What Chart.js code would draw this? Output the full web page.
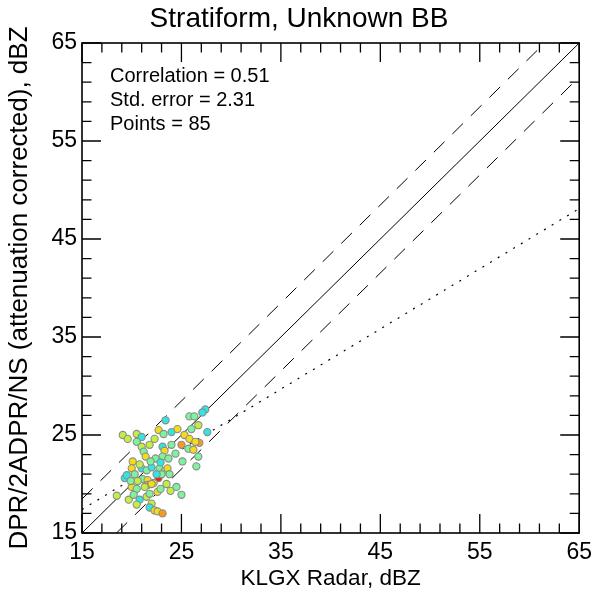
<!DOCTYPE html>
<html>
<head>
<meta charset="utf-8">
<script src="https://cdn.jsdelivr.net/npm/chart.js@4.4.1/dist/chart.umd.min.js"></script>
<style>
  html, body { margin: 0; padding: 0; background: #fff; }
  canvas { display: block; }
</style>
</head>
<body>
<canvas id="c" width="598" height="599"></canvas>
<script>
/* ==== data ==== */
// KLGX radar (x) vs DPR attenuation corrected (y), dBZ
const xVals = [
  23.4, 25.8, 26.3, 27.4, 27.1, 26.7, 22.7, 19.1, 20.5, 21.0,
  23.2, 24.0, 20.5, 21.0, 21.8, 25.3, 25.0, 25.8, 26.8, 26.4,
  27.6, 25.7, 23.1, 23.3, 21.2, 21.4, 23.1, 23.7, 26.7, 25.1,
  26.5, 20.1, 20.0, 21.0, 21.5, 22.0, 22.8, 23.3, 23.6, 19.3,
  19.5, 20.3, 21.1, 21.6, 22.7, 23.0, 22.2, 21.6, 22.0, 20.0,
  20.5, 21.3, 23.5, 24.5, 22.6, 25.0, 18.5, 19.7, 20.8, 20.5,
  22.0, 21.8, 22.3, 22.6, 23.1, 22.4, 22.9, 21.9, 24.4, 20.6,
  22.5, 23.8, 21.5, 20.2, 24.0, 26.0, 22.3, 19.9, 21.8, 24.6,
  26.2, 20.8, 22.9, 23.9, 19.6
];
const yVals = [
  26.5, 26.9, 26.9, 27.6, 27.3, 26.0, 25.5, 25.0, 25.1, 24.8,
  25.1, 25.3, 24.3, 23.8, 24.0, 25.0, 24.0, 24.6, 24.2, 24.3,
  25.3, 23.6, 23.8, 23.4, 23.3, 22.8, 22.8, 22.6, 22.8, 22.3,
  21.8, 22.3, 21.6, 21.6, 21.4, 21.7, 21.6, 21.3, 21.6, 20.6,
  20.9, 21.0, 20.5, 20.4, 20.6, 21.0, 20.1, 19.9, 20.0, 19.7,
  19.5, 19.7, 20.0, 19.7, 19.2, 18.9, 18.8, 18.4, 18.4, 17.9,
  18.0, 17.6, 17.3, 17.2, 17.0, 22.6, 22.2, 22.3, 23.1, 20.3,
  21.0, 21.0, 18.7, 18.9, 24.0, 25.6, 24.6, 20.3, 19.0, 25.6,
  23.5, 22.0, 19.5, 19.3, 24.6
];
// colour class of each point (0 cyan .. 5 red)
const colourClass = [
  0, 1, 1, 0, 0, 2, 3, 2, 2, 0,
  1, 0, 1, 2, 2, 3, 4, 3, 4, 3,
  0, 1, 0, 3, 1, 3, 1, 1, 1, 1,
  1, 3, 3, 0, 1, 0, 1, 1, 3, 0,
  0, 1, 1, 3, 5, 1, 3, 4, 3, 3,
  1, 2, 2, 1, 3, 1, 2, 2, 0, 2,
  2, 0, 3, 3, 4, 1, 0, 1, 1, 2,
  0, 1, 2, 1, 1, 1, 2, 1, 1, 3,
  3, 2, 1, 2, 2
];
const classColours = ["#2fe6e2", "#7ef29c", "#c2f040", "#f4dc18", "#f59a22", "#e6230f"];

// reference lines (x, y end points)
const oneToOne = [[15, 15], [65, 65]];
const upperLine = [[15, 18.47], [61.53, 65]];
const lowerLine = [[18.47, 15], [65, 61.53]];
const fitLine = [[15, 17.4], [65, 48.1]];

const majorTicks = [15, 25, 35, 45, 55, 65];
const minorTicks = [17, 19, 21, 23, 27, 29, 31, 33, 37, 39, 41, 43, 47, 49, 51, 53, 57, 59, 61, 63];

const statLines = ["Correlation = 0.51", "Std. error = 2.31", "Points = 85"];

const FONT = "'Liberation Sans', Arial, Helvetica, sans-serif";

/* ==== helpers ==== */
const toXY = arr => arr.map(p => ({ x: p[0], y: p[1] }));
function lineSet(pts, dash, w) {
  return { type: 'line', data: toXY(pts), borderColor: '#000', borderWidth: w || 1,
           borderDash: dash, pointRadius: 0, fill: false, order: 2 };
}

// inward ticks on all four sides + frame + stats text
const framePlugin = {
  id: 'frame',
  afterDraw(chart) {
    const { ctx, chartArea: a, scales: { x, y } } = chart;
    ctx.save();
    ctx.strokeStyle = '#000';
    ctx.lineWidth = 1.3;
    ctx.beginPath();
    const tick = (v, len) => {
      const px = x.getPixelForValue(v), py = y.getPixelForValue(v);
      ctx.moveTo(px, a.bottom); ctx.lineTo(px, a.bottom - len);
      ctx.moveTo(px, a.top); ctx.lineTo(px, a.top + len);
      ctx.moveTo(a.left, py); ctx.lineTo(a.left + len, py);
      ctx.moveTo(a.right, py); ctx.lineTo(a.right - len, py);
    };
    majorTicks.forEach(v => tick(v, 19));
    minorTicks.forEach(v => tick(v, 9.5));
    ctx.stroke();
    ctx.lineWidth = 1.6;
    ctx.strokeRect(a.left, a.top, a.right - a.left, a.bottom - a.top);

    ctx.fillStyle = '#000';
    ctx.font = "20px " + FONT;
    ctx.textBaseline = 'alphabetic';
    statLines.forEach((s, i) => ctx.fillText(s, a.left + 28, a.top + 39 + i * 24));
    ctx.restore();
  }
};

new Chart(document.getElementById('c'), {
  data: {
    datasets: [
      {
        type: 'scatter',
        data: xVals.map((v, i) => ({ x: v, y: yVals[i] })),
        backgroundColor: colourClass.map(c => classColours[c]),
        borderColor: '#8c8c8c',
        borderWidth: 1.1,
        pointRadius: 3.6,
        order: 1
      },
      lineSet(oneToOne, []),
      lineSet(upperLine, [15, 11]),
      lineSet(lowerLine, [15, 11]),
      lineSet(fitLine, [2, 7], 1.2)
    ]
  },
  options: {
    responsive: false,
    animation: false,
    devicePixelRatio: 1,
    layout: { padding: 0 },
    plugins: {
      legend: { display: false },
      tooltip: { enabled: false },
      title: {
        display: true,
        text: 'Stratiform, Unknown BB',
        color: '#000',
        font: { family: FONT, size: 28, weight: 'normal' },
        padding: { top: 2, bottom: 7.4 }
      }
    },
    scales: {
      x: {
        type: 'linear', min: 15, max: 65,
        afterBuildTicks: s => { s.ticks = majorTicks.map(v => ({ value: v })); },
        afterFit: s => { s.height = 66; },
        grid: { display: false, drawTicks: false },
        border: { display: false },
        ticks: { color: '#000', padding: 6, maxRotation: 0, font: { family: FONT, size: 23 } },
        title: { display: true, text: 'KLGX Radar, dBZ', color: '#000',
                 font: { family: FONT, size: 22.5 }, padding: { top: 0, bottom: 7 } }
      },
      y: {
        type: 'linear', min: 15, max: 65,
        afterBuildTicks: s => { s.ticks = majorTicks.map(v => ({ value: v })); },
        afterFit: s => { s.width = 82; },
        grid: { display: false, drawTicks: false },
        border: { display: false },
        ticks: { color: '#000', padding: 5, font: { family: FONT, size: 23 } },
        title: { display: true, text: 'DPR/2ADPR/NS (attenuation corrected), dBZ', color: '#000',
                 font: { family: FONT, size: 26 }, padding: { top: 4, bottom: 0 } }
      },
      // empty right-hand strip so the title centres on the whole canvas
      yRight: {
        type: 'linear', position: 'right', display: true,
        ticks: { display: false }, grid: { display: false, drawTicks: false },
        border: { display: false },
        afterFit: s => { s.width = 17; }
      }
    }
  },
  plugins: [framePlugin]
});
</script>
</body>
</html>
